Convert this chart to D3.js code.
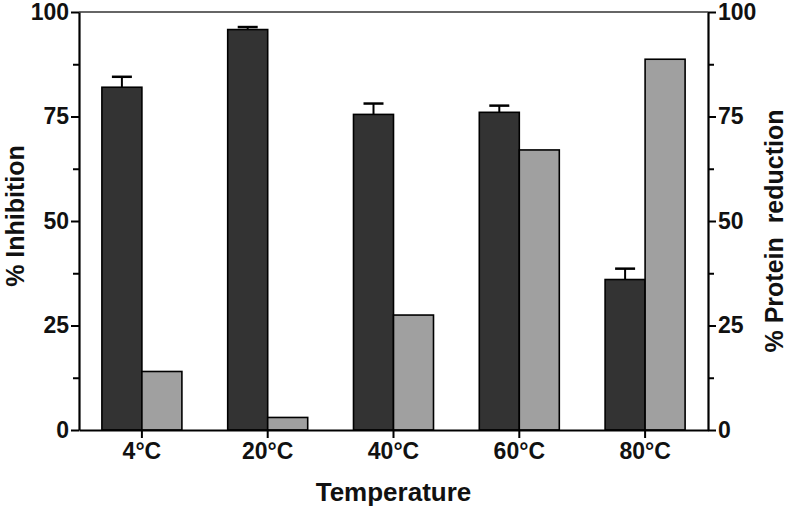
<!DOCTYPE html>
<html><head><meta charset="utf-8">
<script src="https://cdn.jsdelivr.net/npm/d3@7"></script>
<style>body{margin:0;background:#fff}svg{display:block}text{font-family:"Liberation Sans",Arial,sans-serif;font-weight:bold;fill:#111}</style>
</head><body><svg id="c" width="790" height="511"></svg>
<script>
const categories = ["4°C","20°C","40°C","60°C","80°C"];
const inhibition = [82, 95.8, 75.5, 76, 36];
const inhibitionErr = [2.5, 0.6, 2.6, 1.6, 2.6];
const proteinReduction = [14, 3, 27.5, 67, 88.7];
const leftTicks = [0,25,50,75,100];
const rightTicks = [0,25,50,75,100];
const minorTicks = [12.5,37.5,62.5,87.5];

const svg = d3.select("#c");
const L = 79, R = 708, T = 12, B = 430;
const x = d3.scaleBand().domain(categories).range([L,R]).padding(0);
const y = d3.scaleLinear().domain([0,100]).range([B,T]);
const y2 = d3.scaleLinear().domain([0,100]).range([B,T]);
const bw = 40;

svg.append("line").attr("x1",L).attr("x2",R).attr("y1",T).attr("y2",T).attr("stroke","#333").attr("stroke-width",1.5);

const g = svg.append("g");
g.selectAll(".d").data(categories).enter().append("rect")
  .attr("x",d=>x(d)+x.bandwidth()/2-bw).attr("width",bw)
  .attr("y",(d,i)=>y(inhibition[i])).attr("height",(d,i)=>B-y(inhibition[i]))
  .attr("fill","#333333").attr("stroke","#000").attr("stroke-width",1.6);
g.selectAll(".l").data(categories).enter().append("rect")
  .attr("x",d=>x(d)+x.bandwidth()/2).attr("width",bw)
  .attr("y",(d,i)=>y2(proteinReduction[i])).attr("height",(d,i)=>B-y2(proteinReduction[i]))
  .attr("fill","#a0a0a0").attr("stroke","#000").attr("stroke-width",1.6);
categories.forEach((d,i)=>{
  const cx = x(d)+x.bandwidth()/2-bw/2;
  const top = y(inhibition[i]+inhibitionErr[i]);
  g.append("line").attr("x1",cx).attr("x2",cx).attr("y1",y(inhibition[i])).attr("y2",top).attr("stroke","#000").attr("stroke-width",2);
  g.append("line").attr("x1",cx-10).attr("x2",cx+10).attr("y1",top).attr("y2",top).attr("stroke","#000").attr("stroke-width",2.5);
});

function styleAxis(sel){
  sel.select(".domain").attr("stroke","#000").attr("stroke-width",2.2);
  sel.selectAll(".tick line").attr("stroke","#000").attr("stroke-width",2);
  sel.selectAll("text").attr("font-size","23px").attr("font-family","Liberation Sans, Arial, sans-serif").attr("font-weight","bold").attr("fill","#111");
}
const ax = svg.append("g").attr("transform",`translate(0,${B})`)
  .call(d3.axisBottom(x).tickSize(8).tickSizeOuter(0).tickPadding(5));
styleAxis(ax);
const ayl = svg.append("g").attr("transform",`translate(${L},0)`)
  .call(d3.axisLeft(y).tickValues(leftTicks).tickFormat(d3.format("d")).tickSize(8).tickSizeOuter(0).tickPadding(2));
styleAxis(ayl);
svg.append("g").attr("transform",`translate(${L},0)`)
  .call(d3.axisLeft(y).tickValues(minorTicks).tickFormat("").tickSize(6).tickSizeOuter(0))
  .call(s=>{s.select(".domain").remove();s.selectAll("line").attr("stroke","#000").attr("stroke-width",2);});
const ayr = svg.append("g").attr("transform",`translate(${R},0)`)
  .call(d3.axisRight(y2).tickValues(rightTicks).tickFormat(d3.format("d")).tickSize(8).tickSizeOuter(0).tickPadding(2));
styleAxis(ayr);
svg.append("g").attr("transform",`translate(${R},0)`)
  .call(d3.axisRight(y2).tickValues(minorTicks).tickFormat("").tickSize(6).tickSizeOuter(0))
  .call(s=>{s.select(".domain").remove();s.selectAll("line").attr("stroke","#000").attr("stroke-width",2);});

svg.append("text").attr("x",(L+R)/2).attr("y",501).attr("text-anchor","middle").attr("font-size","26px").text("Temperature");
svg.append("text").attr("transform",`translate(24,216) rotate(-90)`).attr("text-anchor","middle").attr("font-size","25px").text("% Inhibition");
svg.append("text").attr("transform",`translate(783,231) rotate(-90)`).attr("text-anchor","middle").attr("font-size","25px").style("white-space","pre").text("% Protein  reduction");
</script></body></html>
